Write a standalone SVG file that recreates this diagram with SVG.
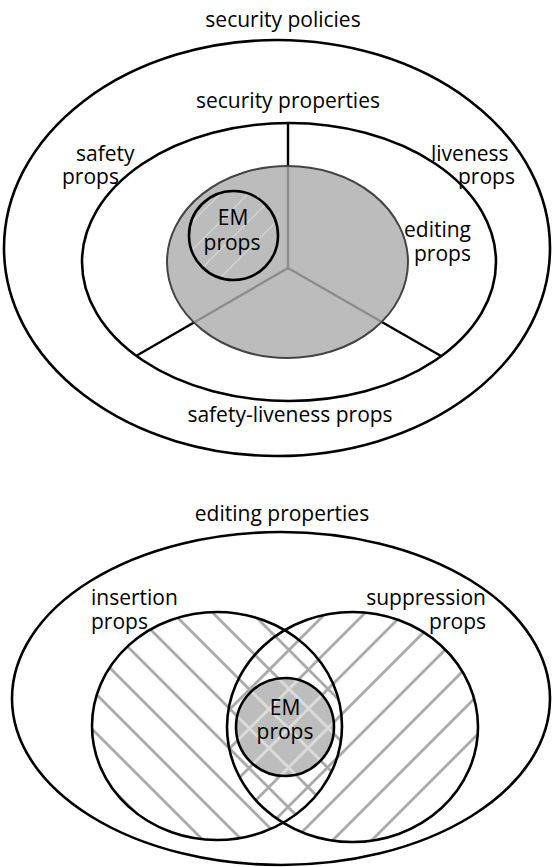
<svg xmlns="http://www.w3.org/2000/svg" width="553" height="867" viewBox="0 0 553 867">
<style>
.ln{fill:none;stroke:#000;stroke-width:2.6}
.t{font-family:"Open Sans","Noto Sans","DejaVu Sans",sans-serif;font-size:21px;fill:#000}
.m{text-anchor:middle}
.e{text-anchor:end}
.h{stroke:#aaaaaa;stroke-width:2.8}
.hl{stroke:#dcdcdc;stroke-width:2.8}
.div{stroke:#000;stroke-width:2.4}
</style>
<defs>
<clipPath id="cpL"><ellipse cx="217" cy="726" rx="125" ry="114"/></clipPath>
<clipPath id="cpR"><ellipse cx="352.5" cy="727" rx="125.5" ry="115"/></clipPath>
<clipPath id="cpEM2"><circle cx="285" cy="727" r="49"/></clipPath>
<clipPath id="cpEM1"><circle cx="233.5" cy="235.5" r="44.5"/></clipPath>
<g id="hatchBack">
<line x1="40" y1="401" x2="420" y2="781"/>
<line x1="40" y1="440" x2="420" y2="820"/>
<line x1="40" y1="480" x2="420" y2="860"/>
<line x1="40" y1="519" x2="420" y2="899"/>
<line x1="40" y1="559" x2="420" y2="939"/>
<line x1="40" y1="598" x2="420" y2="978"/>
<line x1="40" y1="638" x2="420" y2="1018"/>
<line x1="40" y1="677" x2="420" y2="1057"/>
<line x1="40" y1="717" x2="420" y2="1097"/>
</g>
<g id="hatchFwd">
<line x1="140" y1="799" x2="520" y2="419"/>
<line x1="140" y1="838" x2="520" y2="458"/>
<line x1="140" y1="877" x2="520" y2="497"/>
<line x1="140" y1="916" x2="520" y2="536"/>
<line x1="140" y1="955" x2="520" y2="575"/>
<line x1="140" y1="994" x2="520" y2="614"/>
<line x1="140" y1="1033" x2="520" y2="653"/>
<line x1="140" y1="1072" x2="520" y2="692"/>
</g>
</defs>

<!-- top diagram -->
<g id="security-policies">
<ellipse class="ln" cx="277" cy="248" rx="273" ry="208"/>
<text class="t m" x="283" y="27">security policies</text>
</g>
<g id="security-properties">
<ellipse class="ln" cx="289" cy="262" rx="207" ry="139"/>
<text class="t m" x="288" y="108">security properties</text>
</g>
<g id="connectors">
<line class="div" x1="288" y1="268" x2="288" y2="123"/>
<line class="div" x1="288" y1="268" x2="136" y2="356"/>
<line class="div" x1="288" y1="268" x2="441" y2="356"/>
</g>
<g id="safety-props">
<text class="t" x="76" y="161">safety</text>
<text class="t" x="62" y="184">props</text>
</g>
<g id="liveness-props">
<text class="t" x="431" y="161">liveness</text>
<text class="t" x="458" y="184">props</text>
</g>
<g id="safety-liveness-props">
<text class="t m" x="290" y="422">safety-liveness props</text>
</g>
<g id="editing-props">
<ellipse cx="287.5" cy="262" rx="120.5" ry="96" fill="#adadad" fill-opacity="0.81" stroke="#444" stroke-width="2"/>
<text class="t" x="404" y="237">editing</text>
<text class="t" x="414" y="261">props</text>
</g>
<g id="em-props-top">
<g clip-path="url(#cpEM1)" stroke="#fff" stroke-opacity="0.35" stroke-width="1.5">
<line x1="150" y1="320" x2="330" y2="140"/>
<line x1="150" y1="292" x2="330" y2="112"/>
<line x1="150" y1="264" x2="330" y2="84"/>
<line x1="150" y1="348" x2="330" y2="168"/>
</g>
<circle class="ln" cx="233.5" cy="235.5" r="44.5"/>
<text class="t m" x="233" y="225">EM</text>
<text class="t m" x="232" y="250">props</text>
</g>

<!-- bottom diagram -->
<g id="editing-properties">
<ellipse class="ln" cx="281" cy="698.5" rx="269" ry="166.5"/>
<text class="t m" x="282" y="521">editing properties</text>
</g>
<g id="hatching">
<use href="#hatchBack" class="h" clip-path="url(#cpL)"/>
<use href="#hatchFwd" class="h" clip-path="url(#cpR)"/>
</g>
<g id="em-props-bottom">
<circle cx="285" cy="727" r="49" fill="#bdbdbd"/>
<g clip-path="url(#cpEM2)">
<use href="#hatchBack" class="hl"/>
<use href="#hatchFwd" class="hl"/>
</g>
<circle class="ln" cx="285" cy="727" r="49"/>
<text class="t m" x="285" y="715">EM</text>
<text class="t m" x="285" y="739">props</text>
</g>
<g id="insertion-props">
<ellipse class="ln" cx="217" cy="726" rx="125" ry="114"/>
<text class="t" x="91" y="605">insertion</text>
<text class="t" x="91" y="629">props</text>
</g>
<g id="suppression-props">
<ellipse class="ln" cx="352.5" cy="727" rx="125.5" ry="115"/>
<text class="t e" x="486" y="605">suppression</text>
<text class="t e" x="486" y="629">props</text>
</g>
</svg>
